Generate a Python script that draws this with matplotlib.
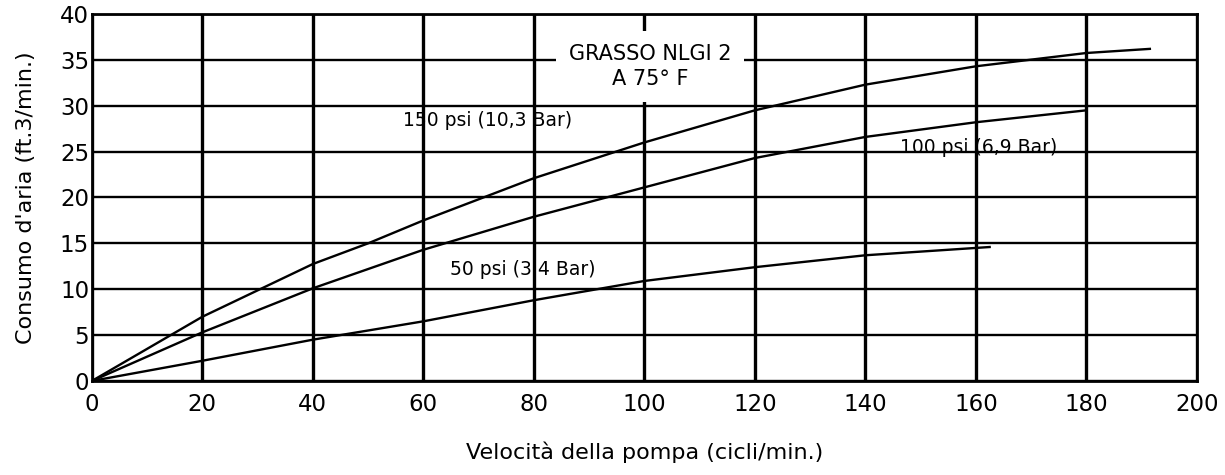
import numpy as np
import matplotlib.pyplot as plt

# letture dal grafico (cicli/min -> ft3/min)
vel_150 = [0, 20, 40, 50, 60, 80, 100, 120, 140, 160, 180, 191.5]
aria_150 = [0, 7.0, 12.75, 15.0, 17.5, 22.1, 26.0, 29.5, 32.3, 34.3, 35.75, 36.2]

vel_100 = [0, 20, 40, 60, 80, 100, 120, 140, 160, 180]
aria_100 = [0, 5.3, 10.1, 14.3, 17.9, 21.1, 24.3, 26.6, 28.2, 29.5]

vel_50 = [0, 20, 40, 60, 80, 100, 120, 140, 162.5]
aria_50 = [0, 2.2, 4.5, 6.5, 8.8, 10.9, 12.4, 13.7, 14.6]

x_ticks = list(range(0, 201, 20))
y_ticks = list(range(0, 41, 5))


def main():
    plt.rcParams['font.family'] = ['DejaVu Sans']

    fig = plt.figure(figsize=(12.25, 4.75), dpi=100)
    ax = fig.add_axes([0.075, 0.198, 0.902, 0.7725])

    ax.plot(vel_150, aria_150, c='black', lw=1.7, zorder=3)
    ax.plot(vel_100, aria_100, c='black', lw=1.7, zorder=3)
    ax.plot(vel_50, aria_50, c='black', lw=1.7, zorder=3)

    ax.set_xlim(0, 200)
    ax.set_ylim(0, 40)
    ax.set_xticks(x_ticks)
    ax.set_yticks(y_ticks)
    ax.tick_params(axis='x', length=0, pad=9, labelsize=16.5)
    ax.tick_params(axis='y', length=0, pad=2, labelsize=16.5)

    ax.xaxis.grid(True, color='black', lw=2.4)
    ax.yaxis.grid(True, color='black', lw=1.7)
    ax.set_axisbelow(True)
    for s in ax.spines.values():
        s.set_linewidth(2)

    ax.text(56.3, 28.4, '150 psi (10,3 Bar)', fontsize=13.5, va='center', ha='left', zorder=4)
    ax.text(146.2, 25.5, '100 psi (6,9 Bar)', fontsize=13.5, va='center', ha='left', zorder=4)
    ax.text(64.8, 12.1, '50 psi (3,4 Bar)', fontsize=13.5, va='center', ha='left', zorder=4)

    ax.text(101, 34.3, 'GRASSO NLGI 2\nA 75° F', fontsize=15, ha='center', va='center',
            linespacing=1.35, zorder=4,
            bbox=dict(boxstyle='square,pad=0.6', fc='white', ec='none'))

    ax.set_xlabel('Velocità della pompa (cicli/min.)', fontsize=16, labelpad=18)
    ax.set_ylabel("Consumo d'aria (ft.3/min.)", fontsize=16, labelpad=17)

    fig.savefig('out.png', dpi=100)
    plt.close()


if __name__ == '__main__':
    main()
